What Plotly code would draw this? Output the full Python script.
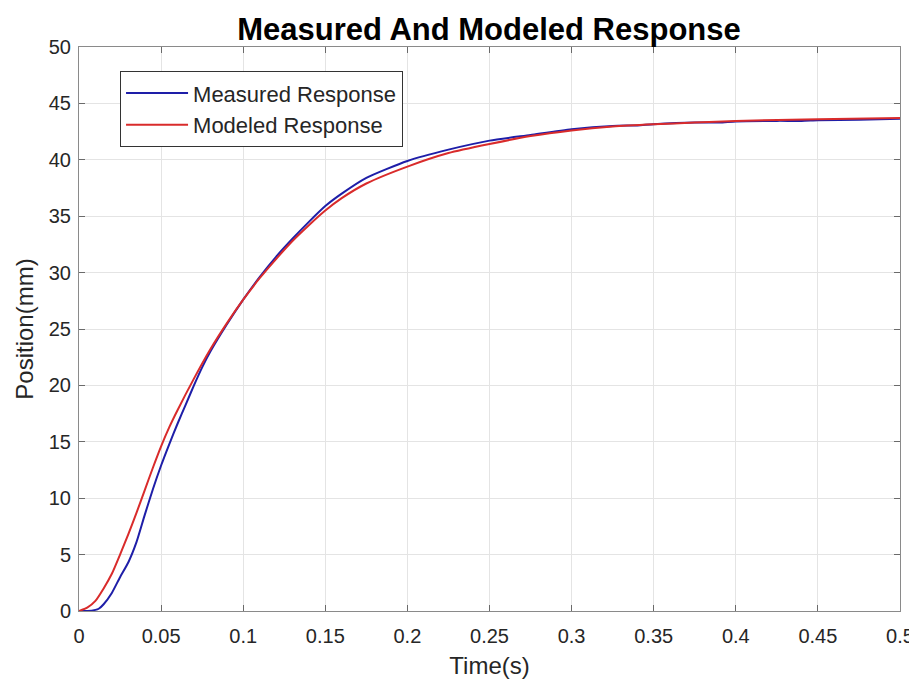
import plotly.graph_objects as go

# Modeled response (red)
t_model = [0, 0.005, 0.01, 0.015, 0.02, 0.025, 0.03, 0.035, 0.04, 0.045, 0.05,
           0.055, 0.06, 0.07, 0.08, 0.09, 0.1, 0.11, 0.12, 0.13, 0.14, 0.15,
           0.16, 0.175, 0.2, 0.225, 0.25, 0.275, 0.3, 0.325, 0.35, 0.375, 0.4,
           0.45, 0.5]
y_model = [0, 0.3, 0.9, 2.0, 3.3, 5.0, 6.8, 8.7, 10.7, 12.7, 14.6,
           16.3, 17.8, 20.6, 23.2, 25.5, 27.6, 29.5, 31.2, 32.8, 34.2, 35.5,
           36.6, 37.9, 39.4, 40.6, 41.4, 42.1, 42.6, 42.95, 43.15, 43.3, 43.45,
           43.6, 43.7]

# Measured response (blue)
t_meas = [0, 0.005, 0.01, 0.012, 0.015, 0.02, 0.025, 0.03, 0.035, 0.04, 0.045,
          0.05, 0.055, 0.06, 0.065, 0.07, 0.075, 0.08, 0.09, 0.1, 0.11, 0.12, 0.13,
          0.14, 0.15, 0.16, 0.175, 0.2, 0.225, 0.25, 0.275, 0.3, 0.325, 0.34,
          0.35, 0.375, 0.39, 0.4, 0.425, 0.44, 0.45, 0.475, 0.5]
y_meas = [0, 0.0, 0.1, 0.2, 0.6, 1.6, 3.0, 4.3, 6.1, 8.5, 10.8,
          12.9, 14.8, 16.6, 18.3, 20.0, 21.6, 23.0, 25.4, 27.6, 29.6, 31.4, 33.0,
          34.5, 35.9, 37.0, 38.4, 39.9, 40.9, 41.7, 42.2, 42.7, 43.0, 43.05,
          43.15, 43.3, 43.3, 43.4, 43.45, 43.45, 43.5, 43.55, 43.65]

x_ticks = [0, 0.05, 0.1, 0.15, 0.2, 0.25, 0.3, 0.35, 0.4, 0.45, 0.5]
x_tick_labels = ["0", "0.05", "0.1", "0.15", "0.2", "0.25", "0.3", "0.35", "0.4", "0.45", "0.5"]
y_ticks = [0, 5, 10, 15, 20, 25, 30, 35, 40, 45, 50]

FONT = "Liberation Sans, Arial, sans-serif"

fig = go.Figure()
fig.add_trace(go.Scatter(x=t_meas, y=y_meas, mode="lines", name="Measured Response",
                         line=dict(color="#1e1ea8", width=2, shape="spline", smoothing=0.6)))
fig.add_trace(go.Scatter(x=t_model, y=y_model, mode="lines", name="Modeled Response",
                         line=dict(color="#d92b2b", width=2, shape="spline", smoothing=0.6)))

axis_common = dict(showgrid=True, gridcolor="#e4e4e4", gridwidth=1,
                   showline=True, linecolor="#8a8a8a", linewidth=1, mirror="ticks",
                   ticks="inside", ticklen=6, tickcolor="#6a6a6a",
                   tickfont=dict(family=FONT, size=20, color="#262626"),
                   zeroline=False, automargin=False)

# the page body adds an 8px offset, so the figure is sized to fit the 917x679 window
W, H = 909, 671

fig.update_layout(
    width=W, height=H,
    margin=dict(l=71, r=17, t=39, b=68),
    paper_bgcolor="white", plot_bgcolor="white",
    title=dict(text="<b>Measured And Modeled Response</b>", x=481 / W, xanchor="center",
               xref="container", yref="container",
               y=1 - 21 / H, yanchor="middle",
               font=dict(family=FONT, size=31, color="black")),
    xaxis=dict(range=[0, 0.5], tickvals=x_ticks, ticktext=x_tick_labels,
               ticklabelstandoff=7,
               title=dict(text="Time(s)", font=dict(family=FONT, size=24, color="#262626"),
                          standoff=13),
               **axis_common),
    yaxis=dict(range=[0, 50], tickvals=y_ticks,
               ticklabelstandoff=3,
               title=dict(text="Position(mm)", font=dict(family=FONT, size=24, color="#262626"),
                          standoff=8),
               **axis_common),
    legend=dict(x=0.05, y=0.957, xanchor="left", yanchor="top",
                bgcolor="white", bordercolor="#333333", borderwidth=1,
                font=dict(family=FONT, size=22, color="#262626"),
                tracegroupgap=0, itemwidth=62),
    showlegend=True,
)

fig.write_html("out.html")
